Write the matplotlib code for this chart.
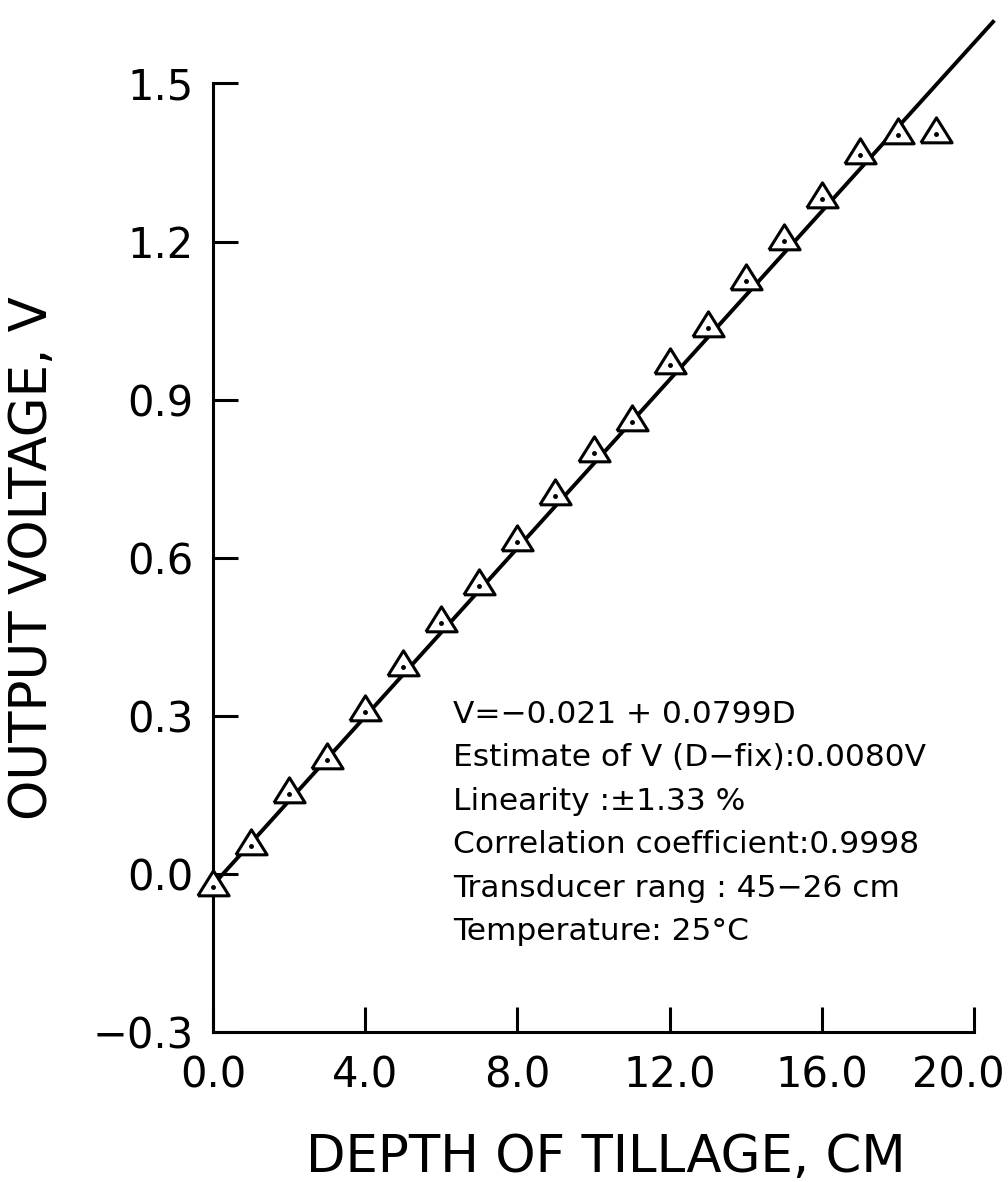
import numpy as np
import matplotlib
matplotlib.use("Agg")
import matplotlib.pyplot as plt
import matplotlib.transforms as mtransforms

# measured points (depth in cm, output voltage in V)
depth = [0, 1, 2, 3, 4, 5, 6, 7, 8, 9, 10, 11, 12, 13, 14, 15, 16, 17, 18, 19]
voltage = [-0.025, 0.053, 0.152, 0.216, 0.307, 0.393, 0.476, 0.546, 0.630, 0.717,
           0.799, 0.858, 0.966, 1.036, 1.125, 1.201, 1.281, 1.364, 1.402, 1.404]

# regression line V = a + b*D
intercept = -0.021
slope = 0.0799
line_end = 20.5

x_ticks = [0, 4, 8, 12, 16, 20]
x_tick_labels = ["0.0", "4.0", "8.0", "12.0", "16.0", "20.0"]
y_ticks = [-0.3, 0.0, 0.3, 0.6, 0.9, 1.2, 1.5]
y_tick_labels = ["\u22120.3", "0.0", "0.3", "0.6", "0.9", "1.2", "1.5"]

notes = [
    "V=\u22120.021 + 0.0799D",
    "Estimate of V (D\u2212fix):0.0080V",
    "Linearity :\u00b11.33 %",
    "Correlation coefficient:0.9998",
    "Transducer rang : 45\u221226 cm",
    "Temperature: 25\u00b0C",
]

plt.rcParams['font.family'] = ['DejaVu Sans']

fig = plt.figure(figsize=(10.08, 11.82), dpi=100)
ax = fig.add_axes([0.2113, 0.1269, 0.755, 0.8025])

# fitted line, runs past the axes like in the original
xl = np.array([0, line_end])
ax.plot(xl, intercept + slope * xl, color='black', lw=2.8, clip_on=False, zorder=2)

# open triangles with a dot at the centroid
tri = [(-1, -0.533), (1, -0.533), (0, 1.067), (-1, -0.533)]
ax.plot(depth, voltage, linestyle='none', marker=tri, markersize=24,
        markerfacecolor='white', markeredgecolor='black', markeredgewidth=2.2,
        clip_on=False, zorder=3)
ax.plot(depth, voltage, linestyle='none', marker='o', markersize=2.5,
        color='black', clip_on=False, zorder=4)

ax.set_xlim(0, 20)
ax.set_ylim(-0.3, 1.5)
ax.set_xticks(x_ticks)
ax.set_xticklabels(x_tick_labels)
ax.set_yticks(y_ticks)
ax.set_yticklabels(y_tick_labels)

for s in ['top', 'right']:
    ax.spines[s].set_visible(False)
for s in ['left', 'bottom']:
    ax.spines[s].set_linewidth(2.2)

ax.tick_params(axis='both', direction='in', length=18, width=2.2, labelsize=30)
ax.tick_params(axis='y', pad=14)
ax.tick_params(axis='x', pad=16)

# last x label sits a bit left of its tick so it stays on the page
last = ax.get_xticklabels()[-1]
last.set_transform(last.get_transform() +
                   mtransforms.ScaledTranslation(-16 / 100, 0, fig.dpi_scale_trans))

ax.set_xlabel("DEPTH OF TILLAGE, CM", fontsize=37)
ax.xaxis.set_label_coords(0.516, -0.106)
ax.set_ylabel("OUTPUT VOLTAGE, V", fontsize=37)
ax.yaxis.set_label_coords(-0.203, 0.5)

# annotation block
tx = 6.31
ty = 0.2865
dy = 0.0824
for i, line in enumerate(notes):
    ax.text(tx, ty - i * dy, line, fontsize=22.5, ha='left', va='baseline')

fig.savefig("out.png", dpi=100, facecolor='white')
